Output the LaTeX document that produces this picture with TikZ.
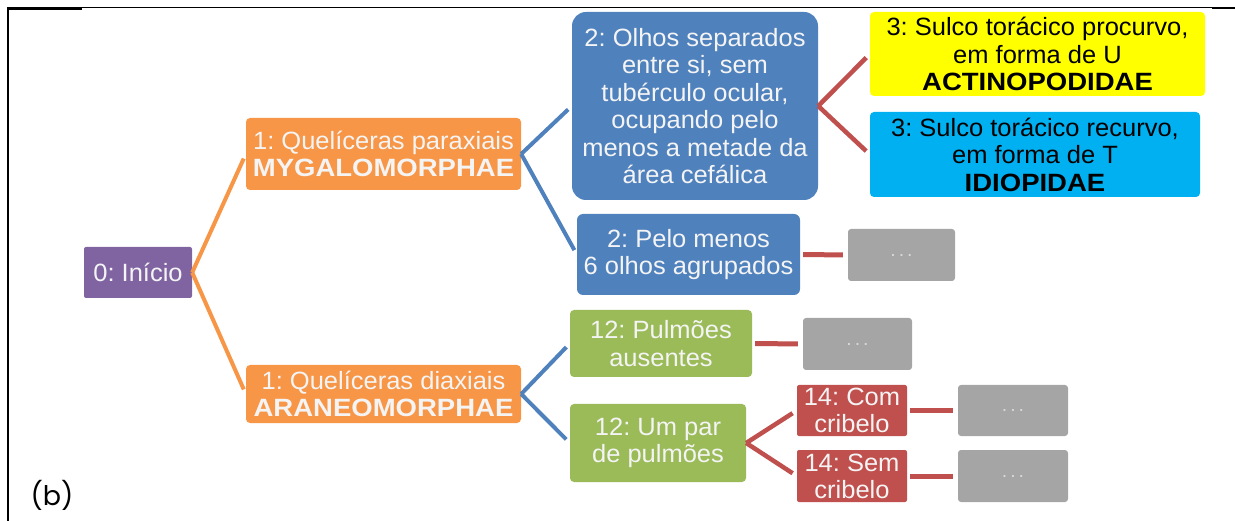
\documentclass[tikz,border=0pt]{standalone}
\usepackage{fontspec}
\setmainfont[FakeStretch=1.02, BoldFeatures={FakeStretch=1.1}]{Liberation Sans}
\newfontfamily\panelfont{Poppins}
\usetikzlibrary{positioning}
\definecolor{rootpurple}{HTML}{8064A2}
\definecolor{orderorange}{HTML}{F79646}
\definecolor{stepblue}{HTML}{4F81BD}
\definecolor{stepgreen}{HTML}{9BBB59}
\definecolor{stepred}{HTML}{C0504D}
\definecolor{familyyellow}{HTML}{FFFF00}
\definecolor{familycyan}{HTML}{00B0F0}
\definecolor{restgray}{HTML}{A5A5A5}
\definecolor{boxtext}{HTML}{F4F4F4}
\definecolor{dotgray}{HTML}{D8D8D8}
\frenchspacing
\newcommand{\moredots}{.\hspace{3pt}.\hspace{3pt}.}

\tikzset{
  keybox/.style={rounded corners=4pt, inner sep=0pt, align=center,
    text=boxtext, font=\fontsize{25}{27.5}\selectfont},
  restbox/.style={keybox, fill=restgray, rounded corners=3pt,
    minimum width=108pt, minimum height=52pt, text=dotgray,
    font=\fontsize{19}{19}\selectfont},
  keylink/.style={line width=4pt, shorten >=5pt},
}

\begin{document}
\begin{tikzpicture}[x=1pt,y=-1pt]
\useasboundingbox (0,0) rectangle (1235,521);

% --- Frame of the table cell ---
\draw[line width=1pt] (7,7.8) -- (1235,7.8);
\fill (7,8) rectangle (82,10);
\fill (1212,7.3) rectangle (1235,9.3);
\fill (7.3,8) rectangle (9.3,521);

% --- Root and orders ---
\node[keybox, fill=rootpurple, rounded corners=2pt,
  minimum width=108pt, minimum height=51pt]
  (inicio) at (138,272.5) {0: Início};
\node[keybox, fill=orderorange, minimum width=275pt, minimum height=72pt]
  (mygalo) at (383.5,154) {1: Quelíceras paraxiais\\\textbf{MYGALOMORPHAE}};
\node[keybox, fill=orderorange, minimum width=275pt, minimum height=58pt]
  (araneo) at (383.5,394) {1: Quelíceras diaxiais\\\textbf{ARANEOMORPHAE}};

% --- Mygalomorphae branch ---
\node[keybox, fill=stepblue, rounded corners=14pt,
  minimum width=246pt, minimum height=188pt]
  (olhossep) at (695,106)
  {2: Olhos separados\\entre si, sem\\tubérculo ocular,\\ocupando pelo\\menos a metade da\\área cefálica};
\node[keybox, fill=stepblue, rounded corners=6pt,
  minimum width=223pt, minimum height=81pt]
  (olhosagr) at (688.5,254.5) {2: Pelo menos\\6 olhos agrupados};
\node[keybox, fill=familyyellow, text=black, minimum width=335pt, minimum height=84pt]
  (actino) at (1037.5,54)
  {3: Sulco torácico procurvo,\\em forma de U\\\textbf{ACTINOPODIDAE}};
\node[keybox, fill=familycyan, text=black, minimum width=330pt, minimum height=85pt]
  (idio) at (1035,154.5)
  {3: Sulco torácico recurvo,\\em forma de T\\\textbf{IDIOPIDAE}};
\node[restbox, minimum width=107pt] (restA) at (901.5,255) {\moredots};

% --- Araneomorphae branch ---
\node[keybox, fill=stepgreen, minimum width=182pt, minimum height=67pt]
  (pulmaus) at (661,343.5) {12: Pulmões\\ausentes};
\node[restbox, minimum width=109pt] (restB) at (857.5,344) {\moredots};
\node[keybox, fill=stepgreen, minimum width=176pt, minimum height=78pt]
  (pulmpar) at (658,443) {12: Um par\\de pulmões};
\node[keybox, fill=stepred, rounded corners=2pt,
  minimum width=110pt, minimum height=51pt,
  font=\fontsize{25}{27}\selectfont]
  (comcrib) at (852,410.5) {14: Com\\cribelo};
\node[keybox, fill=stepred, rounded corners=2pt,
  minimum width=110pt, minimum height=52pt,
  font=\fontsize{25}{27}\selectfont]
  (semcrib) at (852,476) {14: Sem\\cribelo};
\node[restbox, minimum width=110pt, minimum height=51pt] (restC) at (1013,410.5) {\moredots};
\node[restbox, minimum width=110pt] (restD) at (1013,476) {\moredots};

% --- Connectors ---
\foreach \child in {mygalo,araneo}
  \draw[keylink, orderorange] (inicio.east) -- (\child.west);
\foreach \child in {olhossep,olhosagr}
  \draw[keylink, stepblue] (mygalo.east) -- (\child.west);
\foreach \child in {pulmaus,pulmpar}
  \draw[keylink, stepblue] (araneo.east) -- (\child.west);
\foreach \child in {actino,idio}
  \draw[keylink, stepred, line width=4.5pt] (olhossep.east) -- (\child.west);
\foreach \child in {comcrib,semcrib}
  \draw[keylink, stepred, line width=4.5pt] (pulmpar.east) -- (\child.west);
\draw[keylink, stepred, line width=5pt, shorten <=3pt] (olhosagr.east) -- (restA.west);
\draw[keylink, stepred, line width=5pt, shorten <=3pt] (pulmaus.east) -- (restB.west);
\draw[keylink, stepred, line width=5pt, shorten <=3pt] (comcrib.east) -- (restC.west);
\draw[keylink, stepred, line width=5pt, shorten <=3pt] (semcrib.east) -- (restD.west);

% --- Panel label ---
\node[font=\panelfont\fontsize{27}{28}\selectfont, inner sep=0pt]
  (panel) at (52,495) {(b)};

\end{tikzpicture}
\end{document}
